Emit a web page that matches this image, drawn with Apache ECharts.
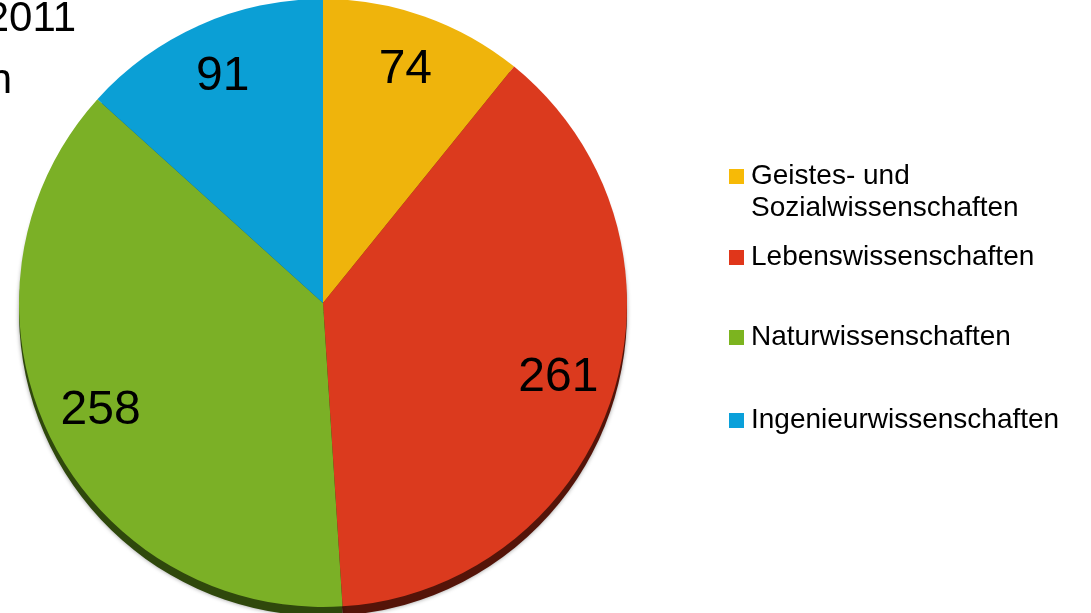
<!DOCTYPE html>
<html>
<head>
<meta charset="utf-8">
<script src="https://cdn.jsdelivr.net/npm/echarts@6/dist/echarts.min.js"></script>
<style>
html,body{margin:0;padding:0;background:#fff;}
#chart{width:1091px;height:613px;}
</style>
</head>
<body>
<div id="chart"></div>
<script>
// Data
const categories = ['Geistes- und Sozialwissenschaften', 'Lebenswissenschaften', 'Naturwissenschaften', 'Ingenieurwissenschaften'];
const values = [74, 261, 258, 91];
const legendLabels = ['Geistes- und', 'Lebenswissenschaften', 'Naturwissenschaften', 'Ingenieurwissenschaften'];
const colors = ['#EFB40C', '#DB3A1E', '#7BB026', '#0B9FD5'];
const legendColors = ['#F7BA06', '#E0361A', '#7CB41F', '#0AA0DA'];
const edgeColors = ['#6b5005', '#541409', '#2F480C', '#0a4a66'];

const FONT = '"Liberation Sans", Arial, Helvetica, sans-serif';
const CX = 323, CY = 303, R = 304;

const mainData = categories.map((c, i) => ({ name: c, value: values[i], itemStyle: { color: colors[i] } }));
const edgeData = categories.map((c, i) => ({ name: c + ' ', value: values[i], itemStyle: { color: edgeColors[i] } }));
const labelData = categories.map((c, i) => ({ name: c + '  ', value: values[i] }));

const legendTops = [162.5, 243.5, 323.5, 406.5];
const legends = categories.map((c, i) => ({
  show: true,
  orient: 'vertical',
  left: 729,
  top: legendTops[i],
  padding: 0,
  itemWidth: 15,
  itemHeight: 15,
  icon: 'rect',
  selectedMode: false,
  data: [{ name: c, itemStyle: { color: legendColors[i] } }],
  formatter: () => legendLabels[i],
  textStyle: { fontFamily: FONT, fontSize: 28, lineHeight: 28, color: '#000', padding: [0, 0, 0, 2] }
}));

const chart = echarts.init(document.getElementById('chart'), null, { renderer: 'canvas' });
chart.setOption({
  animation: false,
  backgroundColor: '#fff',
  legend: legends,
  graphic: [
    { type: 'text', x: 751, y: 208, style: { text: 'Sozialwissenschaften', font: '28px ' + FONT, fill: '#000', align: 'left', verticalAlign: 'middle' } },
    { type: 'text', x: 76, y: 19, style: { text: '2011', font: '42px ' + FONT, fill: '#000', align: 'right', verticalAlign: 'middle' } },
    { type: 'text', x: 12, y: 81, style: { text: 'n', font: '42px ' + FONT, fill: '#000', align: 'right', verticalAlign: 'middle' } }
  ],
  series: [
    {
      type: 'pie', silent: true, z: 1,
      center: [CX, CY + 9], radius: [0, R],
      startAngle: 90, clockwise: true,
      label: { show: false }, labelLine: { show: false },
      itemStyle: { shadowBlur: 4, shadowColor: 'rgba(0,0,0,0.4)' },
      data: edgeData
    },
    {
      type: 'pie', silent: true, z: 2,
      center: [CX, CY], radius: [0, R],
      startAngle: 90, clockwise: true,
      label: { show: false }, labelLine: { show: false },
      data: mainData
    },
    {
      type: 'pie', silent: true, z: 3,
      center: [CX, CY], radius: [R - 120, R],
      startAngle: 90, clockwise: true,
      itemStyle: { color: 'rgba(0,0,0,0)' },
      labelLine: { show: false },
      label: {
        show: true, position: 'inside',
        formatter: p => String(p.value),
        fontFamily: FONT, fontSize: 48, color: '#000'
      },
      data: labelData
    }
  ]
});
</script>
</body>
</html>
